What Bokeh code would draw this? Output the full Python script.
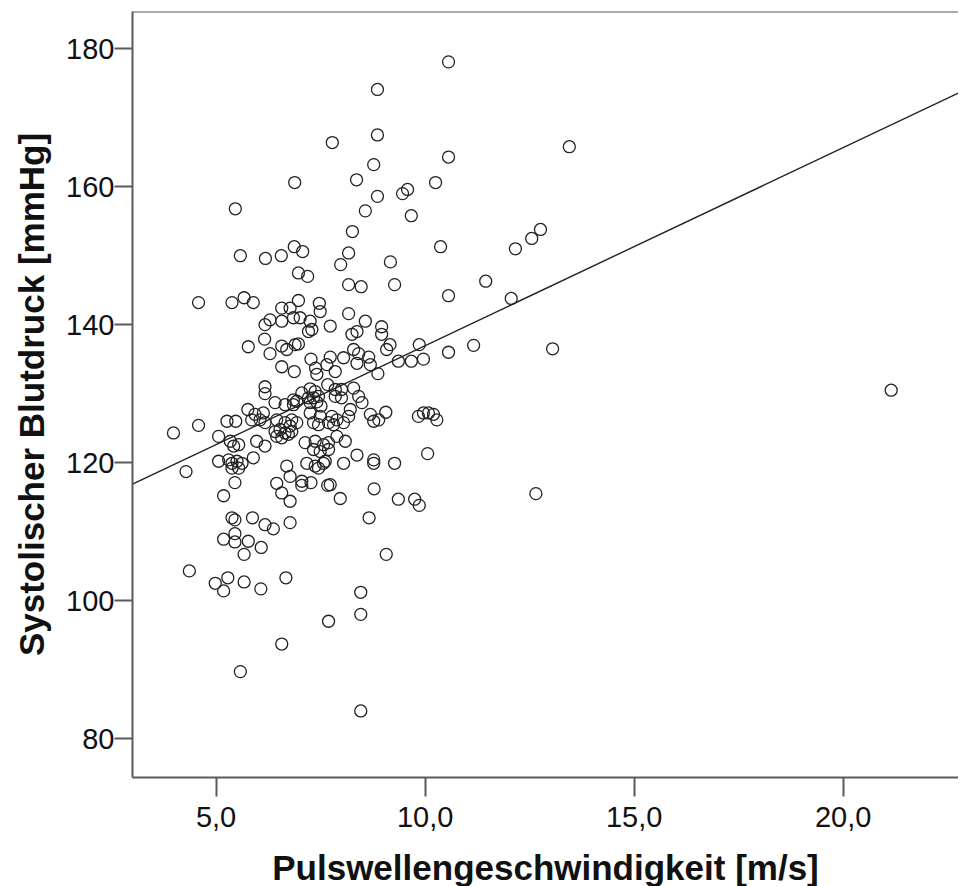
from bokeh.plotting import figure
from bokeh.models import FixedTicker, Span
from bokeh.embed import file_html
from bokeh.resources import INLINE

# ---- data: pulse wave velocity [m/s] and systolic blood pressure [mmHg] ----
pwv = [
    10.56, 8.86, 7.78, 8.86, 13.45, 10.56, 8.77, 6.88, 8.36, 10.25,
    8.86, 9.46, 9.58, 5.46, 9.67, 8.57, 8.26, 8.17, 9.17, 10.37,
    12.16, 12.55, 12.76, 5.58, 6.18, 6.56, 6.87, 7.07, 7.98, 6.97, 7.19,
    8.17, 8.47, 9.27, 11.45, 10.56, 12.06, 8.17, 8.57, 7.73, 8.96,
    8.96, 8.37, 8.25, 9.16, 9.08, 9.86, 11.16, 13.05, 10.56, 8.29,
    8.41, 8.05, 7.73, 8.65, 8.69, 8.37, 9.36, 9.67, 9.96, 7.85,
    8.87, 7.85, 7.85, 8.0, 8.29, 8.41, 8.49, 8.21, 8.17, 8.05,
    7.77, 7.81, 8.69, 8.77, 8.89, 9.06, 9.84, 9.96, 10.08, 10.20,
    10.28, 7.89, 7.69, 8.37, 8.77, 8.77, 9.27, 10.06, 8.05, 8.09,
    4.58, 5.38, 5.67, 5.89, 6.57, 6.77, 6.97, 7.47, 7.49,
    6.29, 6.17, 6.57, 6.85, 7.01, 7.25, 7.29, 7.21,
    6.16, 5.77, 6.57, 6.69, 6.89, 6.97,
    6.29, 7.27, 7.65, 7.38, 7.41, 6.57, 6.87,
    6.17, 6.17, 7.25, 7.37, 7.45, 7.33, 7.21, 7.05, 7.67,
    6.85, 6.85, 6.93, 6.41, 6.65, 7.25, 7.41, 7.51, 8.0,
    5.76, 5.93, 5.85, 6.13, 6.05, 6.17, 5.26, 5.47, 4.58, 3.98, 6.45,
    6.65, 6.81, 6.93, 6.77,
    6.41, 6.53, 6.65, 6.45, 6.73, 6.57, 6.81,
    7.25, 7.49, 7.33, 7.45, 7.69, 7.89,
    5.06, 5.34, 5.42, 5.54, 5.97, 6.17,
    7.13, 7.37, 7.57, 7.49, 7.69, 7.33,
    5.06, 5.30, 5.38, 5.50, 5.62, 5.38, 5.54, 5.89, 4.28,
    6.69, 7.17, 7.37, 7.57,
    5.45, 5.18, 6.45, 6.77, 6.57, 6.77, 7.05, 7.05, 7.27, 7.67, 7.97, 7.45, 7.61,
    5.38, 5.45, 5.87, 6.17, 6.37, 6.77,
    5.18, 5.45, 5.45, 5.77, 5.67, 6.08,
    4.36, 4.98, 5.28, 5.18, 5.67, 6.07, 6.67,
    6.57, 5.58,
    7.73, 8.78, 8.66, 9.36, 9.75, 9.86, 12.65, 9.07, 8.46, 8.46, 7.69, 8.46,
    21.15,
]
sbp = [
    178.1, 174.1, 166.4, 167.5, 165.8, 164.3, 163.2, 160.6, 161.0, 160.6,
    158.6, 159.0, 159.6, 156.8, 155.8, 156.5, 153.5, 150.4, 149.1, 151.3,
    151.0, 152.5, 153.8, 150.0, 149.6, 150.0, 151.3, 150.6, 148.7, 147.5, 147.0,
    145.8, 145.5, 145.8, 146.3, 144.2, 143.8, 141.6, 140.5, 139.8, 139.7,
    138.6, 139.0, 138.6, 137.1, 136.4, 137.1, 137.0, 136.5, 136.0, 136.4,
    135.8, 135.2, 135.3, 135.3, 134.2, 134.4, 134.7, 134.7, 135.0, 133.2,
    132.9, 130.6, 129.6, 130.6, 130.8, 129.6, 128.7, 127.7, 126.7, 125.8,
    126.7, 125.5, 127.0, 126.0, 126.2, 127.3, 126.7, 127.2, 127.2, 127.0,
    126.2, 123.8, 122.9, 121.1, 120.4, 119.9, 119.9, 121.3, 119.9, 123.1,
    143.2, 143.2, 143.9, 143.2, 142.4, 142.4, 143.5, 143.1, 141.9,
    140.7, 140.0, 140.5, 141.0, 141.0, 140.5, 139.3, 139.0,
    137.9, 136.8, 136.9, 136.4, 137.1, 137.2,
    135.8, 135.0, 134.2, 133.7, 132.8, 133.9, 133.2,
    131.0, 130.0, 130.7, 130.3, 129.6, 129.4, 129.4, 130.1, 131.3,
    129.1, 128.4, 128.9, 128.7, 128.4, 128.7, 128.8, 128.2, 129.4,
    127.7, 127.0, 126.2, 127.2, 126.2, 125.8, 126.0, 126.0, 125.4, 124.3, 126.2,
    125.8, 126.2, 125.8, 125.3,
    124.5, 124.8, 124.3, 123.8, 124.1, 123.6, 124.5,
    127.2, 126.7, 125.8, 125.5, 125.8, 126.2,
    123.8, 123.1, 122.4, 122.6, 123.1, 122.4,
    122.9, 123.1, 122.6, 121.6, 121.9, 121.9,
    120.2, 120.4, 119.9, 120.2, 119.9, 119.2, 119.2, 120.7, 118.7,
    119.5, 119.9, 119.5, 119.9,
    117.1, 115.2, 117.0, 118.0, 115.6, 114.4, 117.3, 116.7, 117.1, 116.7, 114.8, 119.2, 120.2,
    112.0, 111.7, 112.0, 111.0, 110.4, 111.3,
    108.9, 109.7, 108.5, 108.6, 106.7, 107.7,
    104.3, 102.5, 103.3, 101.4, 102.7, 101.7, 103.3,
    93.7, 89.7,
    116.8, 116.2, 112.0, 114.7, 114.7, 113.8, 115.5, 106.7, 101.2, 98.0, 97.0, 84.0,
    130.5,
]

# linear fit
fit_intercept = 108.26
fit_slope = 2.870

x_ticks = [5, 10, 15, 20]
x_tick_labels = ["5,0", "10,0", "15,0", "20,0"]
y_ticks = [80, 100, 120, 140, 160, 180]
y_tick_labels = ["80", "100", "120", "140", "160", "180"]

x_lo, x_hi = 3.0, 22.76
y_lo, y_hi = 74.35, 185.4

AXIS_COLOR = "#5a5a5a"
FONT = "Liberation Sans"

p = figure(
    frame_width=826, frame_height=766,
    x_range=(x_lo, x_hi), y_range=(y_lo, y_hi),
    output_backend="svg", toolbar_location=None,
    min_border_left=132, min_border_top=11, min_border_right=0, min_border_bottom=108,
)
p.outline_line_color = None
p.grid.visible = False
p.background_fill_color = "white"
p.border_fill_color = "white"

# regression line
p.line([x_lo, x_hi], [fit_intercept + fit_slope * x_lo, fit_intercept + fit_slope * x_hi],
       line_color="#222222", line_width=1.4)

# points
p.scatter(pwv, sbp, marker="circle", size=12, fill_color=None,
          line_color="#222222", line_width=1.3)

# top frame line
p.add_layout(Span(location=y_hi, dimension="width", line_color=AXIS_COLOR, line_width=2))

for ax in (p.xaxis[0], p.yaxis[0]):
    ax.axis_line_color = AXIS_COLOR
    ax.axis_line_width = 2
    ax.major_tick_line_color = AXIS_COLOR
    ax.major_tick_line_width = 2
    ax.major_tick_in = 0
    ax.minor_tick_line_color = None
    ax.major_label_text_font = FONT
    ax.major_label_text_font_size = "29px"
    ax.major_label_text_color = "#111111"
    ax.axis_label_text_font = FONT
    ax.axis_label_text_font_size = "35px"
    ax.axis_label_text_font_style = "bold"
    ax.axis_label_text_color = "#111111"

p.xaxis[0].ticker = FixedTicker(ticks=x_ticks)
p.xaxis[0].major_label_overrides = dict(zip(x_ticks, x_tick_labels))
p.xaxis[0].major_tick_out = 19
p.xaxis[0].major_label_standoff = 10
p.xaxis[0].axis_label = "Pulswellengeschwindigkeit [m/s]"
p.xaxis[0].axis_label_standoff = 18

p.yaxis[0].ticker = FixedTicker(ticks=y_ticks)
p.yaxis[0].major_label_overrides = dict(zip(y_ticks, y_tick_labels))
p.yaxis[0].major_tick_out = 18
p.yaxis[0].major_label_standoff = 0
p.yaxis[0].axis_label = "Systolischer Blutdruck [mmHg]"
p.yaxis[0].axis_label_standoff = 12

open("out.html", "w").write(file_html(p, INLINE))
